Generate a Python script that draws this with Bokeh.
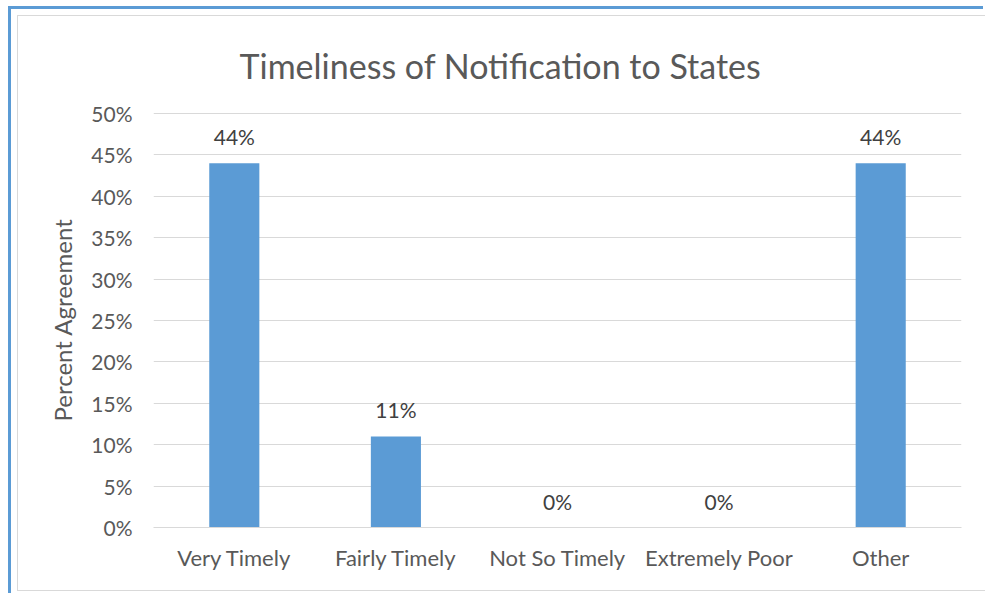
from bokeh.plotting import figure
from bokeh.models import (ColumnDataSource, LabelSet, NumeralTickFormatter,
                          FixedTicker, Range1d, FactorRange, Column)
from bokeh.core.properties import value
from bokeh.embed import file_html
from bokeh.resources import INLINE

categories = ["Very Timely", "Fairly Timely", "Not So Timely", "Extremely Poor", "Other"]
values = [0.44, 0.11, 0.0, 0.0, 0.44]
labels = ["44%", "11%", "0%", "0%", "44%"]
y_ticks = [0, 0.05, 0.10, 0.15, 0.20, 0.25, 0.30, 0.35, 0.40, 0.45, 0.50]

FONT = "Lato"
BAR = "#5b9bd5"
GRID = "#d9d9d9"
TEXT = "#595959"

source = ColumnDataSource(dict(cat=categories, val=values, lab=labels))

p = figure(
    width=968, height=576,
    title="Timeliness of Notification to States",
    x_range=FactorRange(*categories, range_padding=0),
    y_range=Range1d(0, 0.5012),
    output_backend="svg", toolbar_location=None,
    min_border_left=135, min_border_right=25,
    min_border_top=96, min_border_bottom=65,
    background_fill_color="white", border_fill_color="white",
    outline_line_color=None,
    styles={"margin-left": "6px", "margin-top": "6px",
            "border-left": "1px solid #d9d9d9",
            "border-top": "1px solid #d9d9d9",
            "border-bottom": "1px solid #d9d9d9"},
)

p.title.align = "left"
p.title.offset = 86
p.title.vertical_align = "top"
p.title.text_font = FONT
p.title.text_font_size = "34px"
p.title.text_font_style = "normal"
p.title.text_color = TEXT
p.title.standoff = 50

p.vbar(x="cat", top="val", width=0.31, source=source,
       fill_color=BAR, line_color=None)

p.add_layout(LabelSet(x="cat", y="val", text="lab", source=source,
                      text_align="center", text_baseline="bottom", y_offset=14,
                      text_font=value(FONT), text_font_size="21px",
                      text_color="#404040"))

# axes
p.yaxis.ticker = FixedTicker(ticks=y_ticks)
p.yaxis.formatter = NumeralTickFormatter(format="0%")
p.yaxis.axis_line_color = None
p.yaxis.major_tick_line_color = None
p.yaxis.minor_tick_line_color = None
p.yaxis.major_tick_out = 0
p.yaxis.major_label_standoff = 21
p.yaxis.major_label_text_font = FONT
p.yaxis.major_label_text_font_size = "21px"
p.yaxis.major_label_text_color = TEXT
p.yaxis.axis_label = "Percent Agreement"
p.yaxis.axis_label_text_font = FONT
p.yaxis.axis_label_text_font_size = "24px"
p.yaxis.axis_label_text_font_style = "normal"
p.yaxis.axis_label_text_color = TEXT
p.yaxis.axis_label_standoff = 11

p.xaxis.axis_line_color = GRID
p.xaxis.major_tick_line_color = None
p.xaxis.minor_tick_line_color = None
p.xaxis.major_tick_out = 0
p.xaxis.major_label_standoff = 16
p.xaxis.major_label_text_font = FONT
p.xaxis.major_label_text_font_size = "22px"
p.xaxis.major_label_text_color = TEXT

p.xgrid.grid_line_color = None
p.ygrid.grid_line_color = GRID
p.ygrid.grid_line_width = 1

# sheet selection frame around the chart object
page = Column(p, width=975, height=587,
              styles={"margin-left": "8px", "margin-top": "6px",
                      "border-left": "3px solid #5b9bd5",
                      "border-top": "3px solid #5b9bd5"})

open("out.html", "w").write(file_html(page, INLINE))
